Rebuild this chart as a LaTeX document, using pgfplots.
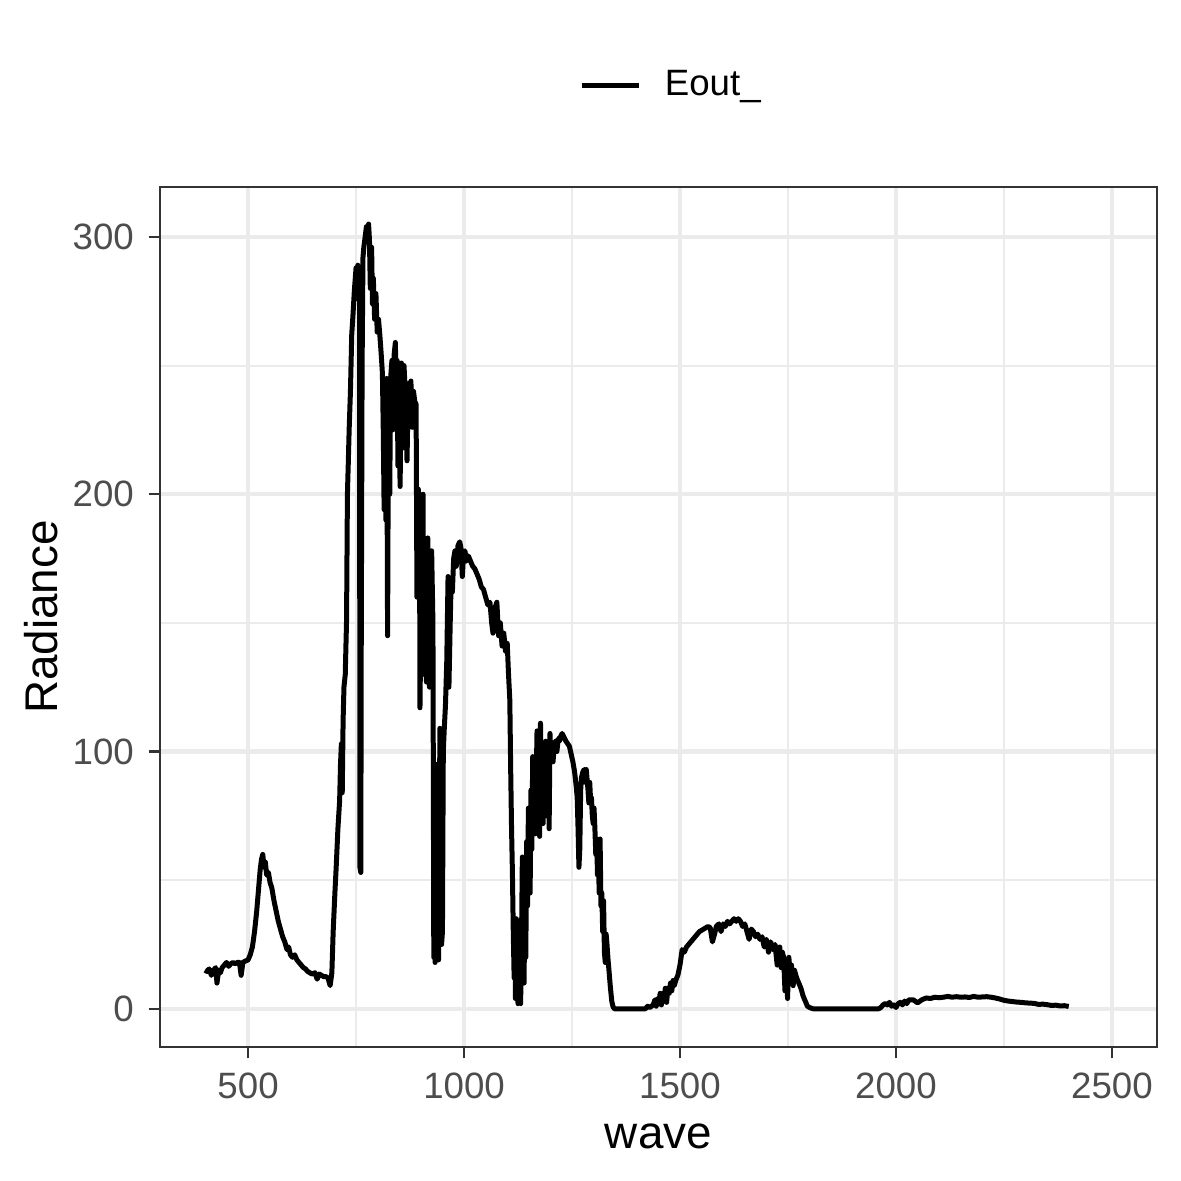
\documentclass[border=0pt]{standalone}
\usepackage{fontspec}
\setmainfont{Liberation Sans}
\usepackage{pgfplots}
\usepackage{pgfplotstable}
\pgfplotsset{compat=1.18}
\definecolor{grey20}{HTML}{333333}
\definecolor{grey30}{HTML}{4D4D4D}
\definecolor{grey92}{HTML}{EBEBEB}

\pgfplotstableread{
wave value
400 15
405 14.5
410 15.5
415 13
420 15
425 16
428 10
432 15
436 14
440 16
445 17
450 18
455 16.5
460 17.5
465 18
470 17.5
475 18
480 18
484 13
488 18
493 18.5
500 19
505 21
510 24
515 30
520 38
524 46
528 54
531 58
534 60
537 55
540 57
543 52
547 53
551 49
555 47
560 42
565 38
570 34
575 31
580 28
585 26
590 23
594 24
598 21
603 20
608 21
613 19
618 18
623 17
628 16
633 15.5
638 14.5
643 14
648 13.5
655 14
660 11.5
665 13.5
670 13
675 12.5
680 12.5
685 12
690 9
694 14
697 30
701 45
704 55
708 70
712 81
714 95
716 103
718 84
720 112
722 125
725 130
728 151
730 200
732 212
734 225
737 240
740 262
743 270
746 279
750 288
752 276
754 289
756 281
758 286
759 55
761 53
762 140
764 250
766 292
768 296
771 300
774 304
777 302
779 305
781 299
783 280
786 296
788 274
790 284
793 268
796 278
799 263
802 268
805 262
808 255
811 247
813 225
815 194
817 240
819 190
821 245
823 145
825 232
828 200
830 245
833 252
835 225
838 254
841 259
843 240
845 252
847 211
849 238
852 203
855 251
857 235
859 218
861 250
864 240
868 213
871 243
874 238
877 244
880 226
883 240
886 236
889 235
891 160
894 202
897 185
898 117
900 150
903 165
905 200
907 130
910 175
913 127
916 183
918 160
920 125
922 170
925 178
928 150
930 20
932 75
933 18
935 95
937 45
939 28
941 19
943 60
944 109
946 40
948 25
950 30
952 100
954 108
957 118
960 135
963 168
965 125
968 150
970 165
973 162
976 175
979 178
982 172
986 180
990 181.5
993 179
996 168
999 177
1002 178
1006 174
1010 176
1015 174
1020 172
1025 171
1030 169
1035 167
1040 164
1045 163
1050 160
1055 157
1060 158
1064 150
1067 146
1070 155
1076 158
1080 145
1084 150
1088 141
1092 146
1096 139
1100 142
1103 130
1106 120
1108 93
1110 70
1112 53
1114 30
1116 12
1118 22
1119 4
1121 35
1123 8
1125 2
1127 15
1129 5
1131 2
1133 25
1135 59
1137 30
1139 10
1141 50
1143 20
1145 65
1147 40
1149 78
1151 55
1153 45
1155 85
1157 62
1159 98
1161 70
1163 97
1165 68
1167 88
1169 108
1171 75
1173 100
1175 67
1177 111
1179 80
1181 103
1183 72
1185 100
1187 92
1189 104
1191 75
1193 103
1195 98
1197 70
1199 107
1201 98
1203 100
1206 96
1209 102
1212 104
1215 100
1218 105
1221 104
1224 106
1227 107
1230 106
1233 105
1236 104
1240 103
1244 102
1248 99
1252 96
1256 92
1260 86
1262 82
1264 70
1266 55
1268 62
1270 85
1272 90
1275 92
1278 93
1281 88
1283 93
1285 89
1287 85
1289 80
1291 88
1293 81
1295 82
1297 75
1299 72
1301 78
1303 70
1305 60
1307 66
1309 52
1311 58
1313 45
1315 66
1317 40
1319 45
1321 30
1323 42
1325 22
1327 18
1329 29
1331 25
1333 20
1336 14
1339 8
1342 3
1345 0.8
1348 0
1400 0
1420 0
1425 1
1430 0.5
1438 1.5
1442 3.5
1445 1
1448 4
1451 2
1454 6
1457 1.5
1460 6
1463 3
1466 8
1469 2.5
1472 8
1475 6
1478 10
1481 7
1484 11
1487 9
1490 11
1495 13
1500 17
1505 23
1510 22
1515 24
1520 25
1525 26
1530 27
1535 28
1540 29
1545 30
1550 30.5
1555 31
1560 31.5
1565 32
1570 31.5
1575 26
1580 29
1584 32
1590 33
1595 30
1600 33
1605 32
1610 34
1615 33
1620 34
1625 35
1630 34
1635 35
1640 34
1645 32
1650 33
1655 30
1660 27
1665 31
1670 30
1675 28
1680 29
1685 27
1690 28
1695 24
1700 27
1705 22
1710 26
1715 23
1720 25
1725 17
1728 22
1731 24
1734 16
1737 22
1740 20
1743 7
1746 18
1749 4
1752 20
1755 14
1758 17
1762 9
1765 15
1770 12
1775 10
1780 8
1785 5
1790 3
1795 1
1800 0.5
1808 0
1900 0
1960 0
1965 0.5
1970 1.5
1975 2
1980 1.5
1985 2.5
1990 1
1995 1.5
2000 0.5
2005 2
2010 2.5
2015 1.5
2020 3
2025 2
2030 3.5
2040 3.5
2050 2.3
2060 3.5
2070 4.2
2080 4
2090 4.5
2100 4.3
2110 4.5
2120 4.8
2130 4.5
2140 4.7
2150 4.5
2160 4.6
2170 4.4
2180 4.8
2190 4.5
2200 4.6
2210 4.7
2220 4.5
2230 4.2
2240 3.8
2250 3.3
2260 3
2270 2.8
2280 2.6
2290 2.5
2300 2.3
2310 2.2
2320 2.1
2330 1.7
2340 1.8
2350 1.6
2360 1.3
2370 1.4
2380 1.1
2390 1.2
2400 0.9
}\spectrum

\begin{document}
\begin{tikzpicture}
\begin{axis}[
    scale only axis,
    width=239.3pt,
    height=206.4pt,
    xmin=296, xmax=2604,
    ymin=-14.8, ymax=319.4,
    xtick={500,1000,1500,2000,2500},
    minor xtick={750,1250,1750,2250},
    ytick={0,100,200,300},
    minor ytick={50,150,250},
    grid=both,
    major grid style={grey92, line width=1pt},
    minor grid style={grey92, line width=0.5pt},
    axis line style={grey20, line width=0.5pt},
    tick style={grey20, line width=0.5pt},
    tick align=outside,
    major tick length=2.75pt,
    minor tick length=0pt,
    xtick pos=bottom,
    ytick pos=left,
    ticklabel style={font=\fontsize{8.8}{10}\selectfont, text=grey30},
    /pgf/number format/assume math mode=true,
    /pgf/number format/1000 sep={},
    xlabel={wave},
    ylabel={Radiance},
    label style={font=\fontsize{11}{13}\selectfont, text=black},
    xlabel style={at={(axis description cs:0.5,-0.1177)}, anchor=base},
    ylabel style={at={(axis description cs:-0.1024,0.5)}, anchor=base, rotate=0},
    legend style={at={(axis description cs:0.420,1.118)}, anchor=west,
        draw=none, fill=none, inner sep=0pt,
        font=\fontsize{8.8}{10}\selectfont,
        /tikz/every odd column/.append style={column sep=3.6pt}},
    legend image code/.code={\draw[black, line width=1.2pt] (0pt,0pt) -- (13.7pt,0pt);},
    legend cell align=left,
]
\addplot[black, line width=1.2pt, line join=round] table[x=wave, y=value] {\spectrum};
\addlegendentry{Eout\_}
\end{axis}
\pgfresetboundingbox
\path ([shift={(-38.4pt,-32.2pt)}]current axis.south west) rectangle ([shift={(5.8pt,44.9pt)}]current axis.north east);
\end{tikzpicture}
\end{document}
